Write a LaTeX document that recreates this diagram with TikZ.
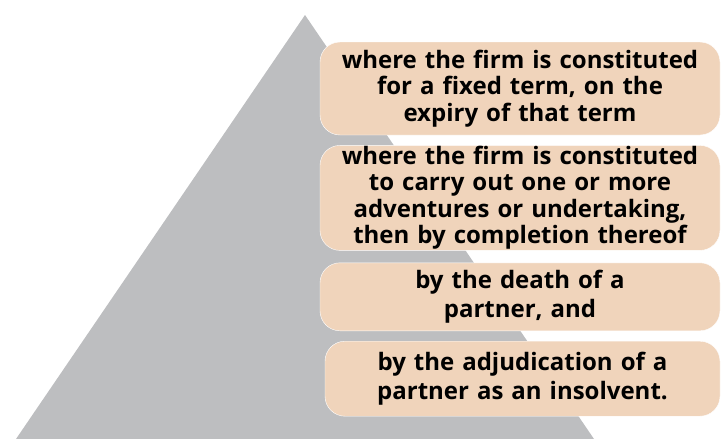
\documentclass[tikz,border=0pt]{standalone}
\usepackage{fontspec}
\setmainfont{Open Sans}
\usepackage{tikz}
\usetikzlibrary{positioning}
\definecolor{pyrgray}{HTML}{BDBEC0}
\definecolor{boxpeach}{HTML}{F0D4BB}
\tikzset{
	stepbox/.style={fill=boxpeach,draw=white,rounded corners=20pt,align=center,
		text width=395pt,inner sep=0pt,font=\fontsize{24}{26.5}\selectfont\bfseries}
}
\begin{document}
\begin{tikzpicture}[x=1pt,y=-1pt]
	\useasboundingbox (0,0) rectangle (723,439);
	\fill[pyrgray] (305,15) -- (16,439) -- (594,439) -- cycle;
	\node[stepbox,minimum width=400pt,minimum height=93pt] (term) at (520,88.5)
		{where the firm is constituted\\for a fixed term, on the\\expiry of that term};
	\node[stepbox,minimum width=400pt,minimum height=105pt,below=10pt of term] (venture)
		{where the firm is constituted\\to carry out one or more\\adventures or undertaking,\\then by completion thereof};
	\node[stepbox,minimum width=400pt,minimum height=68pt,below=12pt of venture] (death)
		{by the death of a\\[2pt]partner, and};
	\node[stepbox,minimum width=395pt,minimum height=75pt,below=10pt of death,xshift=2.5pt] (insolv)
		{by the adjudication of a\\[2pt]partner as an insolvent.};
\end{tikzpicture}
\end{document}
